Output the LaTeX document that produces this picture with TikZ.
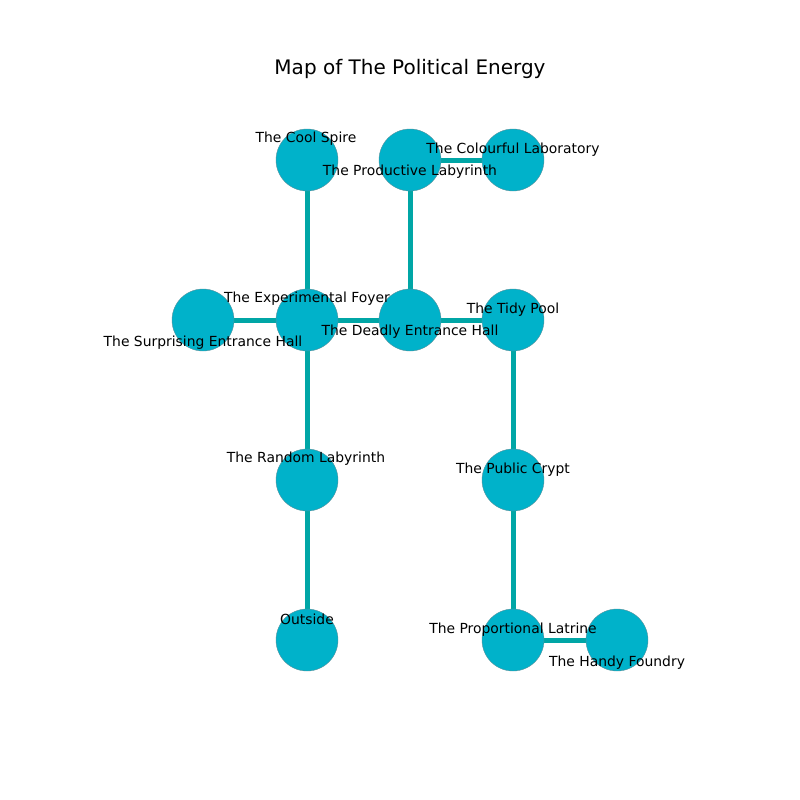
\documentclass[tikz,border=0pt]{standalone}
\usepackage{fontspec}
\setmainfont{DejaVu Sans}
\usetikzlibrary{backgrounds}
\definecolor{roomfill}{HTML}{00B2CA}
\definecolor{roomline}{HTML}{5A8F99}
\definecolor{corr}{HTML}{00A6A6}
\tikzset{
  room/.style={circle, fill=roomfill, draw=roomline, line width=0.4pt, minimum size=62pt, inner sep=0pt},
  lbl/.style={font=\fontsize{13.9}{16}\selectfont, inner sep=0pt, anchor=center},
  corridor/.style={draw=corr, line width=5pt}
}
\begin{document}
\begin{tikzpicture}[x=1pt,y=-1pt]
\useasboundingbox (0,0) rectangle (800,800);
\node[font=\fontsize{20}{24}\selectfont] (title) at (410,69) {Map of The Political Energy};
% rooms
\node[room] (cool) at (307,160) {};
\node[room] (prod) at (410,160) {};
\node[room] (colour) at (513,160) {};
\node[room] (surp) at (203,320) {};
\node[room] (exp) at (307,320) {};
\node[room] (deadly) at (410,320) {};
\node[room] (tidy) at (513,320) {};
\node[room] (random) at (307,480) {};
\node[room] (public) at (513,480) {};
\node[room] (outside) at (307,640) {};
\node[room] (prop) at (513,640) {};
\node[room] (handy) at (617,640) {};
% corridors
\begin{pgfonlayer}{background}
\draw[corridor] (cool) -- (exp);
\draw[corridor] (prod) -- (colour);
\draw[corridor] (prod) -- (deadly);
\draw[corridor] (surp) -- (exp);
\draw[corridor] (exp) -- (deadly);
\draw[corridor] (deadly) -- (tidy);
\draw[corridor] (exp) -- (random);
\draw[corridor] (random) -- (outside);
\draw[corridor] (tidy) -- (public);
\draw[corridor] (public) -- (prop);
\draw[corridor] (prop) -- (handy);
\end{pgfonlayer}
% labels
\node[lbl] (lcool) at (306,139) {The Cool Spire};
\node[lbl] (lprod) at (410,172) {The Productive Labyrinth};
\node[lbl] (lcolour) at (513,150) {The Colourful Laboratory};
\node[lbl] (lexp) at (307,299) {The Experimental Foyer};
\node[lbl] (lsurp) at (203,343) {The Surprising Entrance Hall};
\node[lbl] (ldeadly) at (410,332) {The Deadly Entrance Hall};
\node[lbl] (ltidy) at (513,310) {The Tidy Pool};
\node[lbl] (lrandom) at (306,459) {The Random Labyrinth};
\node[lbl] (lpublic) at (513,470) {The Public Crypt};
\node[lbl] (loutside) at (307,619) {Outside};
\node[lbl] (lprop) at (513,630) {The Proportional Latrine};
\node[lbl] (lhandy) at (617,663) {The Handy Foundry};
\end{tikzpicture}
\end{document}
